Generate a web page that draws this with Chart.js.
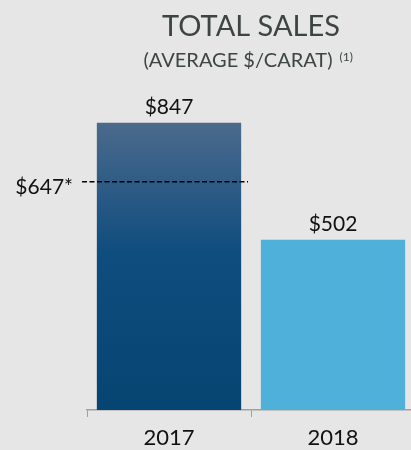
<!DOCTYPE html>
<html>
<head>
<meta charset="utf-8">
<script src="https://cdn.jsdelivr.net/npm/chart.js@4"></script>
<style>
  html, body { margin: 0; padding: 0; background: #e6e6e6; overflow: hidden; }
  #wrap { width: 416px; height: 450px; }
</style>
</head>
<body>
<div id="wrap"><canvas id="myChart" width="416" height="450"></canvas></div>
<script>
var years = ['2017', '2018'];
var avgPerCarat = [847, 502];
var valueLabels = ['$847', '$502'];
// dashed reference mark, position as drawn in the picture
var refLineAt = [673];
var refLineLabel = ['$647*'];

var FONT = 'Lato, "Open Sans", sans-serif';

var extras = {
  id: 'extras',
  beforeDraw: function(chart) {
    var c = chart.ctx;
    c.save();
    c.fillStyle = '#e6e6e6';
    c.fillRect(0, 0, chart.width, chart.height);
    c.restore();
  },
  afterDatasetsDraw: function(chart) {
    var c = chart.ctx;
    var x = chart.scales.x, y = chart.scales.y;
    var meta = chart.getDatasetMeta(0);
    c.save();

    // title
    c.fillStyle = '#3d4543';
    c.textAlign = 'center';
    c.textBaseline = 'alphabetic';
    c.font = '29px ' + FONT;
    c.fillText('TOTAL SALES', 251, 36);
    c.font = '20px ' + FONT;
    c.textAlign = 'left';
    var sub = '(AVERAGE $/CARAT)';
    var w = c.measureText(sub).width;
    c.fillText(sub, 238 - w / 2, 67);
    c.font = '12px ' + FONT;
    c.fillText('(1)', 238 + w / 2 + 7, 61);

    // value labels
    c.fillStyle = '#111';
    c.textAlign = 'center';
    c.font = '21px ' + FONT;
    meta.data.forEach(function(bar, i) {
      c.fillText(valueLabels[i], bar.x, bar.y - 9);
    });

    // dashed line
    var ly = y.getPixelForValue(refLineAt[0]);
    var half = (x.getPixelForValue(1) - x.getPixelForValue(0)) / 2;
    var x1 = chart.chartArea.left - 5;
    var x2 = x.getPixelForValue(0) + half - 3;
    c.strokeStyle = '#000';
    c.lineWidth = 1.5;
    c.setLineDash([5, 2.5]);
    c.beginPath();
    c.moveTo(x1, ly);
    c.lineTo(x2, ly);
    c.stroke();
    c.setLineDash([]);
    c.textAlign = 'right';
    c.textBaseline = 'middle';
    c.font = '21px ' + FONT;
    c.fillText(refLineLabel[0], x1 - 9, ly + 5);

    c.restore();
  }
};

var ctx = document.getElementById('myChart').getContext('2d');
var myChart = new Chart(ctx, {
  type: 'bar',
  data: {
    labels: years,
    datasets: [{
      data: avgPerCarat,
      backgroundColor: function(context) {
        var chart = context.chart;
        var area = chart.chartArea;
        if (!area) return '#0b4776';
        if (context.dataIndex === 1) return '#4fb1da';
        var yS = chart.scales.y;
        var top = yS.getPixelForValue(avgPerCarat[0]);
        var g = chart.ctx.createLinearGradient(0, top, 0, area.bottom);
        g.addColorStop(0, '#4b6a8c');
        g.addColorStop(0.45, '#0f4d7e');
        g.addColorStop(1, '#064472');
        return g;
      },
      borderWidth: 0,
      categoryPercentage: 1,
      barPercentage: 0.88
    }]
  },
  options: {
    responsive: false,
    animation: false,
    layout: { padding: { left: 87, right: 1, top: 71, bottom: 0 } },
    plugins: {
      legend: { display: false },
      title: { display: false },
      tooltip: { enabled: false }
    },
    scales: {
      x: {
        grid: {
          drawOnChartArea: false,
          drawTicks: true,
          tickLength: 7,
          color: '#a0a0a0',
          offset: true
        },
        border: { color: '#a0a0a0', width: 1.5 },
        ticks: {
          color: '#111',
          font: { family: FONT, size: 22 },
          padding: 8
        },
        afterFit: function(scale) { scale.height = 40; }
      },
      y: {
        display: false,
        min: 0,
        max: 1000
      }
    }
  },
  plugins: [extras]
});
</script>
</body>
</html>
